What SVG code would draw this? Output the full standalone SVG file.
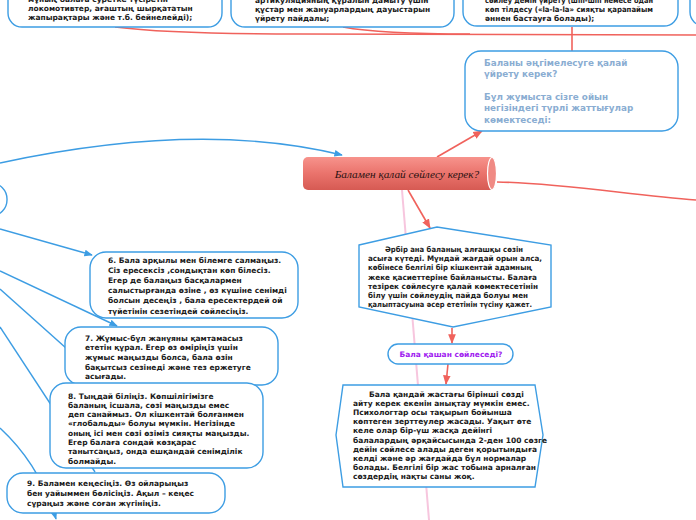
<svg xmlns="http://www.w3.org/2000/svg" width="696" height="520" viewBox="0 0 696 520">
<defs>
<style>
.box{fill:#fff;stroke:#3d9de3;stroke-width:1.4}
.t{font-family:"DejaVu Sans","Liberation Sans",sans-serif;font-weight:bold;font-size:7.5px;fill:#1a1a1a}
.rt{font-family:"DejaVu Sans","Liberation Sans",sans-serif;font-weight:bold;font-size:8.8px;fill:#8aadd2}
.bl{fill:none;stroke:#3d9de3;stroke-width:1.4}
.rd{fill:none;stroke:#f0625c;stroke-width:1.6}
.pk{fill:none;stroke:#f7c6de;stroke-width:2}
</style>
<marker id="ab" viewBox="0 0 10 10" refX="9" refY="5" markerWidth="6" markerHeight="6" orient="auto"><path d="M0,1 L10,5 L0,9 Z" fill="#3d9de3"/></marker>
<marker id="ar" viewBox="0 0 10 10" refX="9" refY="5" markerWidth="6" markerHeight="6" orient="auto"><path d="M0,1 L10,5 L0,9 Z" fill="#f0625c"/></marker>
<linearGradient id="cyl" x1="0" y1="0" x2="0" y2="1">
<stop offset="0" stop-color="#f7938c"/><stop offset="0.5" stop-color="#ea736c"/><stop offset="1" stop-color="#d65a53"/>
</linearGradient>
</defs>
<rect width="696" height="520" fill="#fff"/>

<g id="connectors">
<path class="pk" d="M402,190 L429,520"/>
<path class="bl" d="M0,163 Q200,120 342,155" marker-end="url(#ab)"/>
<path class="bl" d="M0,229 L92,255" marker-end="url(#ab)"/>
<path class="bl" d="M0,271 L117,326" marker-end="url(#ab)"/>
<path class="bl" d="M0,289 L104,382"/>
<path class="bl" d="M0,327 L95,472"/>
<path class="bl" d="M0,428 Q40,465 56,519" marker-end="url(#ab)"/>
<path class="rd" d="M115,27 Q170,34 300,34 L696,35"/>
<path class="rd" d="M343,27 Q380,34 470,34"/>
<path class="rd" d="M572,27 L572,51"/>
<path class="rd" d="M437,157 L482,131" marker-end="url(#ar)"/>
<path class="rd" d="M497,182 C560,183 630,195 696,200"/>
<path class="rd" d="M408,190 L430,228" marker-end="url(#ar)"/>
<path class="rd" d="M452,328 L452,343" marker-end="url(#ar)"/>
<path class="rd" d="M448,364 L446,384" marker-end="url(#ar)"/>
</g>

<g id="node-left">
<rect class="box" x="-100" y="183" width="107" height="33" rx="16"/>
</g>

<g id="node-top-left">
<rect class="box" x="8" y="-40" width="214" height="67" rx="14"/>
<text class="t" x="28" y="1.5">мұның балаға суретке түсіретін</text>
<text class="t" x="28" y="10.5">локомотивтер, ағаштың шырқататын</text>
<text class="t" x="28" y="19.5">жапырақтары және т.б. бейнелейді);</text>
</g>

<g id="node-top-middle">
<rect class="box" x="231" y="-40" width="223" height="67" rx="14"/>
<text class="t" x="255" y="2.5">артикуляцияның құралын дамыту үшін</text>
<text class="t" x="255" y="11.5">құстар мен жануарлардың дауыстарын</text>
<text class="t" x="255" y="20.5">үйрету пайдалы;</text>
</g>

<g id="node-top-right">
<rect class="box" x="463" y="-40" width="215" height="66" rx="14"/>
<text class="t" x="485" y="2.5" textLength="168" lengthAdjust="spacingAndGlyphs">сөйлеу демін үйрету (шіп-шіп немесе одан</text>
<text class="t" x="485" y="11.5" textLength="168" lengthAdjust="spacingAndGlyphs">көп тілдесу («la-la-la» сияқты қарапайым</text>
<text class="t" x="485" y="20.5">әннен бастауға болады);</text>
</g>

<g id="node-top-far-right">
<rect class="box" x="690" y="-40" width="60" height="66" rx="14"/>
</g>

<g id="node-right">
<rect class="box" x="465" y="51" width="213" height="80" rx="16"/>
<text class="rt" x="484" y="66">Баланы әңгімелесуге қалай</text>
<text class="rt" x="484" y="76.5">үйрету керек?</text>
<text class="rt" x="484" y="100">Бұл жұмыста сізге ойын</text>
<text class="rt" x="484" y="111">негізіндегі түрлі жаттығулар</text>
<text class="rt" x="484" y="122.5">көмектеседі:</text>
</g>

<g id="node-central">
<rect x="303" y="157" width="192" height="33" rx="5" fill="url(#cyl)"/>
<ellipse cx="492" cy="173.5" rx="4.5" ry="16" fill="#f08a84" stroke="#fff" stroke-width="1.2"/>
<text x="407" y="177.5" text-anchor="middle" font-family="Liberation Serif, serif" font-style="italic" font-size="11.3" fill="#2a1212">Баламен қалай сөйлесу керек?</text>
</g>

<g id="node-middle">
<path class="box" d="M359,245 L437,227 L551,245 L551,307 L453,327 L359,307 Z"/>
<text class="t" x="385" y="252" textLength="138" lengthAdjust="spacingAndGlyphs">Әрбір ана баланың алғашқы сөзін</text>
<text class="t" x="368" y="261.2" textLength="174" lengthAdjust="spacingAndGlyphs">асыға күтеді. Мұндай жағдай орын алса,</text>
<text class="t" x="368" y="270.4" textLength="164" lengthAdjust="spacingAndGlyphs">көбінесе белгілі бір кішкентай адамның</text>
<text class="t" x="368" y="279.6" textLength="169" lengthAdjust="spacingAndGlyphs">жеке қасиеттеріне байланысты. Балаға</text>
<text class="t" x="368" y="288.8" textLength="170" lengthAdjust="spacingAndGlyphs">тезірек сөйлесуге қалай көмектесетінін</text>
<text class="t" x="368" y="298" textLength="160" lengthAdjust="spacingAndGlyphs">білу үшін сөйлеудің пайда болуы мен</text>
<text class="t" x="368" y="307.2" textLength="164" lengthAdjust="spacingAndGlyphs">қалыптасуына әсер ететінін түсіну қажет.</text>
</g>

<g id="node-when">
<rect class="box" x="388" y="344" width="125" height="20" rx="10"/>
<text x="451" y="357" text-anchor="middle" font-family="DejaVu Sans, sans-serif" font-weight="bold" font-size="7.5" fill="#a020f0">Бала қашан сөйлеседі?</text>
</g>

<g id="node-bottom">
<path class="box" d="M336,435 L343,385 L535,385 L543,435 L535,487 L343,487 Z"/>
<text class="t" x="369" y="397">Бала қандай жастағы бірінші сөзді</text>
<text class="t" x="353" y="406.1">айту керек екенін анықтау мүмкін емес.</text>
<text class="t" x="353" y="415.2">Психологтар осы тақырып бойынша</text>
<text class="t" x="353" y="424.3">көптеген зерттеулер жасады. Уақыт өте</text>
<text class="t" x="353" y="433.4">келе олар бір-үш жасқа дейінгі</text>
<text class="t" x="353" y="442.5">балалардың әрқайсысында 2-ден 100 сөзге</text>
<text class="t" x="353" y="451.6">дейін сөйлесе алады деген қорытындыға</text>
<text class="t" x="353" y="460.7">келді және әр жағдайда бұл нормалар</text>
<text class="t" x="353" y="469.8">болады. Белгілі бір жас тобына арналған</text>
<text class="t" x="353" y="478.9">сөздердің нақты саны жоқ.</text>
</g>

<g id="node-6">
<rect class="box" x="90" y="252" width="208" height="66" rx="16"/>
<text class="t" x="108" y="262.5">6. Бала арқылы мен білемге салмаңыз.</text>
<text class="t" x="108" y="272.7">Сіз ересексіз ,сондықтан көп білесіз.</text>
<text class="t" x="108" y="282.9">Егер де балаңыз басқалармен</text>
<text class="t" x="108" y="293.1">салыстырғанда өзіне , өз күшіне сенімді</text>
<text class="t" x="108" y="303.3">болсын десеңіз , бала ересектердей ой</text>
<text class="t" x="108" y="313.5">түйетінін сезетіндей сөйлесіңіз.</text>
</g>

<g id="node-7">
<rect class="box" x="65" y="327" width="213" height="58" rx="16"/>
<text class="t" x="85" y="340.5">7. Жұмыс-бұл жанұяны қамтамасыз</text>
<text class="t" x="85" y="350.2">ететін құрал. Егер өз өміріңіз үшін</text>
<text class="t" x="85" y="359.9">жұмыс маңызды болса, бала өзін</text>
<text class="t" x="85" y="369.6">бақытсыз сезінеді және тез ержетуге</text>
<text class="t" x="85" y="379.3">асығады.</text>
</g>

<g id="node-8">
<rect class="box" x="50" y="383" width="213" height="85" rx="16"/>
<text class="t" x="68" y="398.5">8. Тыңдай біліңіз. Көпшілігімізге</text>
<text class="t" x="68" y="407.8">баланың ісшала, сөзі маңызды емес</text>
<text class="t" x="68" y="417.1">деп санаймыз. Ол кішкентай болғанмен</text>
<text class="t" x="68" y="426.4">«глобальды»  болуы мүмкін.  Негізінде</text>
<text class="t" x="68" y="435.7">оның ісі мен сөзі өзіміз сияқты маңызды.</text>
<text class="t" x="68" y="445">Егер балаға сондай көзқарас</text>
<text class="t" x="68" y="454.3">танытсаңыз, онда ешқандай сенімділік</text>
<text class="t" x="68" y="463.6">болмайды.</text>
</g>

<g id="node-9">
<rect class="box" x="7" y="473" width="218" height="40" rx="16"/>
<text class="t" x="27" y="485.5">9.  Баламен кеңесіңіз.  Өз ойларыңыз</text>
<text class="t" x="27" y="495.5">бен уайыммен бөлісіңіз.  Ақыл – кеңес</text>
<text class="t" x="27" y="505.5">сұраңыз және соған жүгініңіз.</text>
</g>
</svg>
